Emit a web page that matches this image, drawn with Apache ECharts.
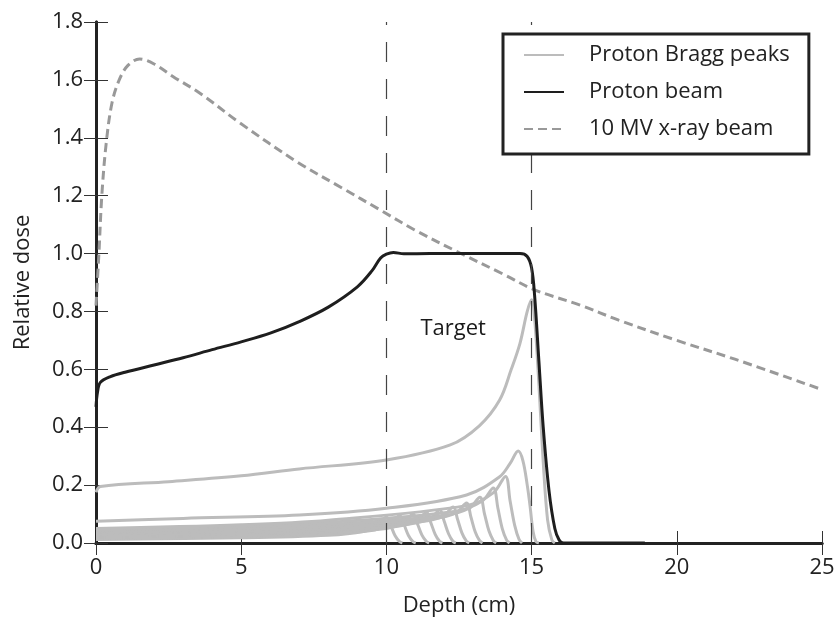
<!DOCTYPE html>
<html>
<head>
<meta charset="utf-8">
<title>Relative dose vs depth</title>
<script src="https://cdn.jsdelivr.net/npm/echarts@6/dist/echarts.min.js"></script>
<style>
html, body { margin: 0; padding: 0; background: #fff; }
#chartView { width: 838px; height: 619px; }
</style>
</head>
<body>
<div id="chartView"></div>
<script>
// axis ticks
var depthTicks = [0, 5, 10, 15, 20, 25];
var doseTicks = [0, 0.2, 0.4, 0.6, 0.8, 1.0, 1.2, 1.4, 1.6, 1.8];

// target region edges (cm) and label position
var targetEdges = [10, 15];
var targetLabel = [12.3, 0.74];

// 10 MV x-ray beam [depth, dose]
var xrayBeam = [[0, 0.82], [0.1, 1.0], [0.2, 1.2], [0.35, 1.38], [0.55, 1.52], [0.8, 1.6], [1.1, 1.65],
	[1.5, 1.672], [2.0, 1.655], [2.66, 1.611], [3.58, 1.554], [4.96, 1.451], [6.92, 1.317], [8.5, 1.225],
	[9.78, 1.151], [11, 1.08], [12.53, 1.002], [14, 0.93], [15.12, 0.874], [16.67, 0.822], [18, 0.77],
	[20, 0.70], [22, 0.635], [25, 0.53]];

// spread-out proton beam
var protonBeam = [[0, 0.47], [0.05, 0.52], [0.15, 0.555], [0.5, 0.575], [1, 0.59], [2, 0.615], [3, 0.64],
	[4, 0.668], [5, 0.695], [6, 0.725], [7, 0.765], [8, 0.815], [9, 0.885], [9.5, 0.94], [9.8, 0.985],
	[10.0, 0.998], [10.24, 1.004], [10.6, 0.999], [11.5, 1.0], [12.5, 1.0], [13.5, 1.0], [14.6, 1.0],
	[14.85, 0.99], [15.0, 0.95], [15.1, 0.86], [15.25, 0.63], [15.4, 0.4], [15.6, 0.18], [15.8, 0.05],
	[15.95, 0.01], [16.1, 0], [17, 0], [18.9, 0]];

// individual Bragg peaks
var bragg01 = [[0, 0.012], [5, 0.018], [8, 0.027], [9.2, 0.04], [9.7, 0.06], [10.0, 0.09], [10.15, 0.06], [10.3, 0.025], [10.45, 0.005], [10.55, 0]];
var bragg02 = [[0, 0.016], [5, 0.022], [8, 0.031], [9.6, 0.045], [10.15, 0.065], [10.46, 0.095], [10.61, 0.063], [10.76, 0.026], [10.91, 0.005], [11.01, 0]];
var bragg03 = [[0, 0.02], [5, 0.027], [8, 0.036], [10, 0.05], [10.6, 0.07], [10.92, 0.1], [11.07, 0.066], [11.22, 0.028], [11.37, 0.006], [11.47, 0]];
var bragg04 = [[0, 0.024], [5, 0.032], [8, 0.041], [10.4, 0.058], [11.05, 0.076], [11.38, 0.106], [11.53, 0.07], [11.68, 0.03], [11.83, 0.006], [11.93, 0]];
var bragg05 = [[0, 0.028], [5, 0.036], [8, 0.046], [10.8, 0.066], [11.5, 0.083], [11.84, 0.114], [11.99, 0.075], [12.14, 0.032], [12.29, 0.006], [12.39, 0]];
var bragg06 = [[0, 0.032], [5, 0.041], [8, 0.052], [11.2, 0.074], [11.95, 0.092], [12.3, 0.124], [12.45, 0.082], [12.6, 0.035], [12.75, 0.007], [12.85, 0]];
var bragg07 = [[0, 0.036], [5, 0.046], [8, 0.058], [11.6, 0.084], [12.4, 0.104], [12.76, 0.138], [12.91, 0.09], [13.06, 0.038], [13.21, 0.008], [13.31, 0]];
var bragg08 = [[0, 0.04], [5, 0.051], [8, 0.064], [12, 0.095], [12.85, 0.12], [13.22, 0.158], [13.38, 0.1], [13.53, 0.042], [13.68, 0.009], [13.78, 0]];
var bragg09 = [[0, 0.045], [5, 0.057], [8, 0.071], [12.4, 0.11], [13.3, 0.145], [13.68, 0.19], [13.84, 0.12], [13.99, 0.05], [14.14, 0.01], [14.24, 0]];
var bragg10 = [[0, 0.05], [5, 0.063], [8, 0.079], [12.8, 0.13], [13.7, 0.175], [14.1, 0.23], [14.26, 0.145], [14.42, 0.06], [14.57, 0.012], [14.67, 0]];
var bragg11 = [[0, 0.075], [3, 0.085], [7, 0.097], [10, 0.12], [12.76, 0.166], [13.9, 0.229], [14.26, 0.275], [14.54, 0.318], [14.7, 0.285], [14.85, 0.2], [14.95, 0.125], [15.05, 0.04], [15.15, 0.005], [15.25, 0]];
var bragg12 = [[0, 0.175], [0.15, 0.195], [2.5, 0.212], [5, 0.232], [7, 0.256], [10, 0.287], [12.2, 0.339], [13.2, 0.405], [13.9, 0.494], [14.3, 0.6], [14.6, 0.69], [14.85, 0.8], [15.0, 0.84], [15.1, 0.78], [15.25, 0.55], [15.4, 0.28], [15.55, 0.08], [15.7, 0.01], [15.8, 0]];
var braggPeaks = [bragg01, bragg02, bragg03, bragg04, bragg05, bragg06, bragg07, bragg08, bragg09, bragg10, bragg11, bragg12];

var fontName = '"Open Sans", "DejaVu Sans", sans-serif';
var chartView = echarts.init(document.getElementById('chartView'));

var series = [];
// target edges as vertical dashed lines
series.push({
	name: 'edges',
	type: 'line',
	data: [],
	z: 1,
	markLine: {
		silent: true,
		symbol: 'none',
		label: { show: false },
		lineStyle: { color: '#444', width: 1.2, type: [20, 17] },
		data: targetEdges.map(function (v) { return { xAxis: v }; })
	}
});
braggPeaks.forEach(function (pts) {
	series.push({
		name: 'Proton Bragg peaks',
		type: 'line',
		data: pts,
		symbol: 'none',
		smooth: 0.35,
		lineStyle: { color: '#bcbcbc', width: 3 },
		itemStyle: { color: '#bcbcbc' }
	});
});
series.push({
	name: '10 MV x-ray beam',
	type: 'line',
	data: xrayBeam,
	symbol: 'none',
	smooth: 0.35,
	lineStyle: { color: '#999999', width: 3, type: [9, 5] },
	itemStyle: { color: '#999999' }
});
series.push({
	name: 'Proton beam',
	type: 'line',
	data: protonBeam,
	symbol: 'none',
	smooth: 0.35,
	lineStyle: { color: '#1e1e1e', width: 3 },
	itemStyle: { color: '#1e1e1e' }
});
series.push({
	name: 'label',
	type: 'scatter',
	data: [targetLabel],
	symbolSize: 0,
	itemStyle: { opacity: 1 },
	label: {
		show: true,
		position: 'inside',
		formatter: 'Target',
		fontFamily: fontName,
		fontSize: 22,
		color: '#1a1a1a'
	}
});

var axisCommon = {
	axisLine: { show: true, lineStyle: { color: '#222', width: 3 } },
	axisTick: { show: true, inside: true, length: 12, lineStyle: { color: '#333', width: 1 } },
	splitLine: { show: false }
};

var ops = {
	animation: false,
	backgroundColor: '#fff',
	grid: { left: 96, right: 16, top: 22, bottom: 76, containLabel: false, outerBoundsMode: 'none' },
	legend: {
		data: ['Proton Bragg peaks', 'Proton beam', '10 MV x-ray beam'],
		orient: 'vertical',
		left: 503,
		top: 34,
		z: 20,
		padding: [9, 19, 13, 20],
		itemWidth: 40,
		itemHeight: 14,
		itemGap: 13,
		backgroundColor: '#fff',
		borderColor: '#222',
		borderWidth: 3,
		borderRadius: 0,
		itemStyle: { opacity: 0 },
		textStyle: { fontFamily: fontName, fontSize: 22, lineHeight: 24, color: '#222', padding: [0, 0, 0, 20] }
	},
	xAxis: [Object.assign({
		type: 'value',
		min: depthTicks[0],
		max: depthTicks[depthTicks.length - 1],
		interval: depthTicks[1] - depthTicks[0],
		name: 'Depth (cm)',
		nameLocation: 'middle',
		nameGap: 52,
		nameTextStyle: { fontFamily: fontName, fontSize: 22, color: '#222' },
		axisLabel: { margin: 14, fontFamily: fontName, fontSize: 22, color: '#222' }
	}, axisCommon), Object.assign({
		type: 'value',
		position: 'top',
		min: depthTicks[0],
		max: depthTicks[depthTicks.length - 1],
		interval: depthTicks[1] - depthTicks[0],
		axisLabel: { show: false }
	}, axisCommon)],
	yAxis: [Object.assign({
		type: 'value',
		min: doseTicks[0],
		max: doseTicks[doseTicks.length - 1],
		interval: 0.2,
		name: 'Relative dose',
		nameLocation: 'middle',
		nameGap: 62,
		nameTextStyle: { fontFamily: fontName, fontSize: 22, color: '#222' },
		axisLabel: {
			margin: 13, fontFamily: fontName, fontSize: 22, color: '#222',
			formatter: function (v) { return v.toFixed(1); }
		}
	}, axisCommon), Object.assign({
		type: 'value',
		position: 'right',
		min: doseTicks[0],
		max: doseTicks[doseTicks.length - 1],
		interval: 0.2,
		axisLabel: { show: false }
	}, axisCommon)],
	series: series
};
chartView.setOption(ops);
</script>
</body>
</html>
